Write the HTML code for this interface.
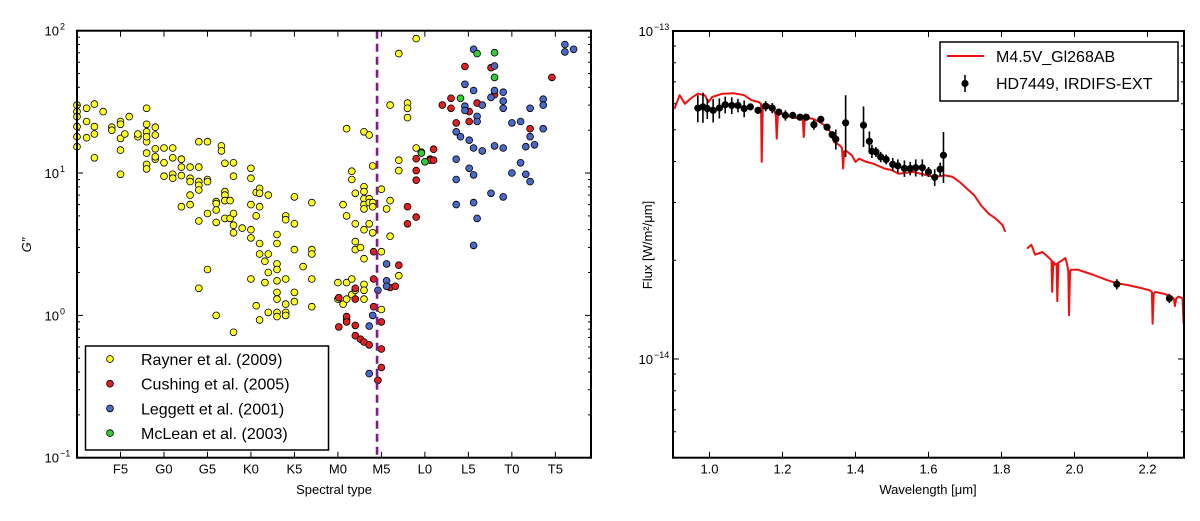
<!DOCTYPE html>
<html><head><meta charset="utf-8"><style>
html,body{margin:0;padding:0;background:#fff;}
svg{display:block;font-family:"Liberation Sans",sans-serif;}
</style></head><body>
<svg id="fig" width="1200" height="521" viewBox="0 0 1200 521" xmlns="http://www.w3.org/2000/svg">
<rect width="1200" height="521" fill="#fff"/>
<g id="left"></g>
<g id="right"></g>
</svg>
<script>
// ---------- LEFT CHART DATA (spectral index: F0=0, G0=10, K0=20, M0=30, L0=40, T0=50) ----------
const tickNamesL = ["F5","G0","G5","K0","K5","M0","M5","L0","L5","T0","T5"];
const tickIdxL = [5,10,15,20,25,30,35,40,45,50,55];
const yTicksL = [0.1,1,10,100];
const markerSpT = 34.5;
const raynerX = [0,0,0,0,0,0,1.1,1.1,1.1,2,2,2,2,3,4,4,5,5,5,5,5,6,5.5,7,7,8,8,8,8,8,8,8,8,9,9,9,9,9,10,10,10,11,11,11,11,12,12,12,12,12,13,13,13,13,13,14,14,14,14,14,14,14,15,15,15,15,15,16,16,16,16,16,16.6,16.6,17,17,17,17,17,17,17.6,17.6,18,18,18,18,18,18,19,20,20,20,20,20,20,20.6,20.6,20.6,21,21,21,21,21,21,21.6,21.6,22,22,22,22,23,23,23,23,23,23,23,23,23,24,24,24,24,24,24,25,25,25,25,25,26,27,27,27,27,27,30,30,30.6,30.6,31,31,31,31,31,31.6,31.6,31.6,31.6,32,32,32,32,32,32.6,33,33,33,33,33,33,33,33,33,33,33,33.6,33.6,33.6,33.6,34,34,34,34,35,35,35,35.6,36,36,36,37,37,37,37,38,38,38,39,39];
const raynerG = [30,27,24.9,21.2,18,15.3,28.5,23,17.7,30.5,21.2,18.8,12.8,27,21,20,23,22,17.5,14.5,9.8,24.9,18.8,18,18.8,28.5,22,19.5,16.6,13.8,11.5,10.7,18,18.5,14.8,12.5,13,21,15,11.8,9.5,15,12.8,9.8,9.2,11,12.5,12.5,9.6,5.8,11,9.2,8.7,7,6,16.6,11,8.7,8.2,7.6,4.6,1.55,16.6,9,8.7,5.2,2.1,6.3,6.1,5.5,4.5,1.0,15.5,14.3,11.7,7.4,7,6.4,6.4,4.8,6.4,4.8,11.8,9.5,5.2,4.3,3.8,0.76,4.1,10.8,9.2,6,4,3.5,1.8,7.3,5,1.17,7.8,7.2,5.8,3.2,2.7,0.93,2.4,1.7,7,2.7,2,1.05,3.7,3.2,2.3,2.1,1.75,1.45,1.3,1.05,0.98,5,4.7,1.8,1.2,1.05,1.0,6.8,4.4,2.9,1.25,1.45,2.2,6.2,2.9,2.7,1.8,1.15,1.7,1.3,6,1.2,20.5,5,1.7,1.3,0.93,10.3,9,1.8,1.4,7.2,4.4,3.3,2.9,1.5,3.0,19.5,8,7.4,6.6,6,5.6,4,2.5,1.65,1.5,1.3,18.5,6.6,6.2,4.4,11.2,6.2,5.8,3.8,7.7,2.8,1.1,5.6,30,6.4,3.6,69,12.3,10.4,1.9,31,28.5,24.5,88,15];
const cushingX = [30.1,30.1,31,31,32,32,32,32,32.6,33,33.6,34.1,34.1,34.1,34.6,35,35,35,36,36.6,37,38,38,39,39,39,39,39.6,40.6,40.6,41,41,42,43,43,43.6,44.6,45.1,45.1,46,47.6,48,52.1,54.6];
const cushingG = [1.33,0.83,0.98,0.9,1.55,1.3,0.85,0.72,0.68,0.65,0.62,2.8,1.8,1.15,0.35,0.9,0.58,0.43,1.57,1.6,2.25,5.8,4.4,12.6,10.4,8.9,4.9,14,12.5,12.3,14.7,12.3,30,28.5,33.5,22.5,56,27,23,31,55,35.5,20.5,47];
const leggettX = [33.6,33.6,34,34.6,35.6,35.6,35.6,43.6,43.6,43.6,43.6,44.1,44.6,44.6,44.6,45.1,45.1,45.6,45.6,45.6,45.6,45.6,45.6,46,46,46,46.6,46.6,47.6,47.6,48,48,48,49,49,49,49,49,50,50,51,51,51.6,51.6,52.1,52.1,52.1,52.6,53.6,53.6,53.6,56.1,56.1,57.1];
const leggettG = [0.84,0.39,1.0,1.5,2.3,1.75,1.6,19.5,12.5,9,6,18,42,29.5,27.5,17,10.8,74,38,15,9.7,6.2,3.1,25,23,4.8,30,14.3,34,7.2,38,56.5,15.5,37,32,28.5,15,6.8,22.5,10,23,11.8,15.3,9.8,28.5,18,8.7,15.8,33,30,20.5,80,71,74];
const mcleanX = [39.6,40,44.1,46,48,48];
const mcleanG = [13.8,12,33.5,69,70,47];

// ---------- RIGHT CHART DATA (wavelength µm, flux in 1e-14 W/m2/µm) ----------
const xTicksR = [1.0,1.2,1.4,1.6,1.8,2.0,2.2];
const modelWl1 = [0.904,0.918,0.933,0.948,0.968,0.987,0.997,1.007,1.036,1.066,1.095,1.115,1.135,1.141,1.143,1.146,1.149,1.164,1.179,1.182,1.184,1.187,1.194,1.204,1.223,1.243,1.256,1.258,1.261,1.263,1.282,1.302,1.322,1.331,1.341,1.356,1.363,1.366,1.369,1.376,1.390,1.400,1.410,1.430,1.449,1.479,1.499,1.518,1.558,1.597,1.617,1.646,1.666,1.685,1.705,1.725,1.744,1.764,1.784,1.803,1.810];
const modelFlux1 = [5.79,6.37,6.00,6.22,6.44,6.37,6.07,6.29,6.44,6.46,6.37,6.15,6.07,6.0,3.99,5.93,5.93,5.93,5.66,5.5,4.70,5.5,5.66,5.53,5.47,5.41,5.35,4.75,5.35,5.41,5.41,5.28,5.10,4.92,4.59,4.49,4.4,3.81,4.3,4.3,4.18,3.99,4.08,3.99,3.94,3.81,3.77,3.67,3.72,3.63,3.59,3.63,3.59,3.47,3.31,3.16,2.94,2.78,2.68,2.56,2.44];
const modelWl2 = [1.870,1.882,1.892,1.912,1.931,1.937,1.939,1.942,1.946,1.951,1.953,1.956,1.961,1.975,1.980,1.983,1.985,1.988,1.990,2.010,2.049,2.089,2.118,2.147,2.187,2.206,2.212,2.214,2.217,2.221,2.246,2.265,2.272,2.275,2.279,2.285,2.296,2.299];
const modelFlux2 = [2.17,2.23,2.08,2.12,2.03,2.0,1.60,1.98,1.94,1.95,1.50,1.97,1.98,2.03,1.94,1.85,1.36,1.85,1.87,1.87,1.81,1.74,1.70,1.68,1.64,1.62,1.6,1.28,1.58,1.60,1.58,1.55,1.53,1.45,1.53,1.55,1.53,1.28];
const obsWl = [0.968,0.982,0.994,1.010,1.027,1.043,1.061,1.078,1.095,1.112,1.133,1.154,1.172,1.190,1.208,1.228,1.248,1.265,1.286,1.305,1.322,1.336,1.346,1.373,1.422,1.438,1.445,1.456,1.469,1.484,1.502,1.516,1.534,1.550,1.565,1.583,1.600,1.617,1.632,1.641,2.116,2.260];
const obsFlux = [5.82,5.87,5.80,5.73,5.82,5.96,5.93,5.93,5.80,5.87,5.73,5.90,5.82,5.66,5.53,5.53,5.46,5.46,5.18,5.38,5.09,4.83,4.68,5.25,5.16,4.61,4.30,4.28,4.13,4.06,3.92,3.88,3.81,3.81,3.83,3.83,3.72,3.58,3.79,4.18,1.69,1.53];
const obsErr = [0.55,0.62,0.41,0.47,0.41,0.35,0.35,0.28,0.34,0.14,0.14,0.21,0.21,0.13,0.20,0.13,0.13,0.13,0.18,0.13,0.12,0.11,0.33,1.12,0.73,0.33,0.20,0.15,0.15,0.14,0.18,0.18,0.22,0.18,0.23,0.23,0.13,0.21,0.18,0.74,0.06,0.05];

const NS='http://www.w3.org/2000/svg';
function mk(parent, tag, attrs, text){const e=document.createElementNS(NS,tag);for(const k in attrs)e.setAttribute(k,attrs[k]);if(text!==undefined)e.textContent=text;parent.appendChild(e);return e;}

// ---------- LEFT ----------
const L={x0:77,x1:591,y0:30.7,y1:457.7,imin:0,imax:59.1,lmin:-1,lmax:2};
const xL=i=>L.x0+(i-L.imin)/(L.imax-L.imin)*(L.x1-L.x0);
const yL=g=>L.y0+(L.lmax-Math.log10(g))/(L.lmax-L.lmin)*(L.y1-L.y0);
const gl=document.getElementById('left');

function series(xs,gs,color,name){
  const g=mk(gl,'g',{});
  
  
  for(let k=0;k<xs.length;k++){
    const c=mk(g,'circle',{cx:xL(xs[k]).toFixed(1),cy:yL(gs[k]).toFixed(1),r:3.4,fill:color,stroke:'#000','stroke-width':0.8});
    
    
  }
}
series(raynerX,raynerG,'#ffff22','rayner');
series(cushingX,cushingG,'#e02020','cushing');
series(leggettX,leggettG,'#4a68c8','leggett');
series(mcleanX,mcleanG,'#33cc33','mclean');

const dl=mk(gl,'line',{x1:xL(markerSpT),x2:xL(markerSpT),y1:L.y0,y2:L.y1,stroke:'#7b1e88','stroke-width':2.6,'stroke-dasharray':'8,5'});



// frame & ticks
const fl=mk(gl,'rect',{x:L.x0,y:L.y0,width:L.x1-L.x0,height:L.y1-L.y0,fill:'none',stroke:'#000','stroke-width':2});


for(let k=0;k<tickIdxL.length;k++){
  const x=xL(tickIdxL[k]);
  mk(gl,'line',{x1:x,x2:x,y1:L.y1,y2:L.y1-6,stroke:'#000','stroke-width':1});
  mk(gl,'line',{x1:x,x2:x,y1:L.y0,y2:L.y0+6,stroke:'#000','stroke-width':1});
  const t=mk(gl,'text',{x:x,y:L.y1+16,'font-size':13,'text-anchor':'middle'},tickNamesL[k]);
  
  
}
for(let d=-1;d<2;d++){for(let m=2;m<10;m++){const y=yL(m*Math.pow(10,d));
  mk(gl,'line',{x1:L.x0,x2:L.x0+3,y1:y,y2:y,stroke:'#000'});mk(gl,'line',{x1:L.x1,x2:L.x1-3,y1:y,y2:y,stroke:'#000'});}}
for(const v of yTicksL){const y=yL(v);
  mk(gl,'line',{x1:L.x0,x2:L.x0+6,y1:y,y2:y,stroke:'#000'});mk(gl,'line',{x1:L.x1,x2:L.x1-6,y1:y,y2:y,stroke:'#000'});
  const e=Math.round(Math.log10(v));
  const t=mk(gl,'text',{x:L.x0-18,y:y+5,'font-size':13,'text-anchor':'end'},'10');
  
  
  mk(gl,'text',{x:L.x0-17,y:y-1,'font-size':9},String(e).replace('-','\u2212'));
}
const xt=mk(gl,'text',{x:334,y:494,'font-size':13,'text-anchor':'middle'},'Spectral type');


const yt=mk(gl,'text',{x:0,y:0,'font-size':13,'font-style':'italic','text-anchor':'middle',transform:'translate(31,245) rotate(-90)'},'G\u2033');



// legend left
const lg=mk(gl,'g',{});


mk(lg,'rect',{x:85.5,y:346,width:243,height:104,fill:'#fff',stroke:'#000','stroke-width':1.5});
const legNames=['Rayner et al. (2009)','Cushing et al. (2005)','Leggett et al. (2001)','McLean et al. (2003)'];
const legCols=['#ffff22','#e02020','#4a68c8','#33cc33'];
for(let k=0;k<4;k++){const y=359+k*24.7;
  const c=mk(lg,'circle',{cx:110,cy:y,r:3.4,fill:legCols[k],stroke:'#000','stroke-width':0.8});
  
  
  const t=mk(lg,'text',{x:141,y:y+6,'font-size':16},legNames[k]);
  
  
}

// ---------- RIGHT ----------
const R={x0:673,x1:1184,y0:31,y1:457.7,wmin:0.9,wmax:2.3};
const xR=w=>R.x0+(w-R.wmin)/(R.wmax-R.wmin)*(R.x1-R.x0);
const yR=f=>R.y0+(1-Math.log10(f))*328;
const gr=document.getElementById('right');
function poly(ws,fs){let s='';for(let k=0;k<ws.length;k++)s+=xR(ws[k]).toFixed(1)+','+yR(fs[k]).toFixed(1)+' ';return s;}
for(const [ws,fs] of [[modelWl1,modelFlux1],[modelWl2,modelFlux2]]){
  const p=mk(gr,'polyline',{points:poly(ws,fs),fill:'none',stroke:'#ee1111','stroke-width':2,'stroke-linejoin':'round'});
  
  
}
for(let k=0;k<obsWl.length;k++){
  const x=xR(obsWl[k]);
  const eb=mk(gr,'line',{x1:x,x2:x,y1:yR(obsFlux[k]+obsErr[k]),y2:yR(Math.max(obsFlux[k]-obsErr[k],0.5)),stroke:'#000','stroke-width':1.6});
  
  
  const c=mk(gr,'circle',{cx:x,cy:yR(obsFlux[k]),r:3.6,fill:'#000'});
  
  
}
const fr=mk(gr,'rect',{x:R.x0,y:R.y0,width:R.x1-R.x0,height:R.y1-R.y0,fill:'none',stroke:'#000','stroke-width':2});


for(const w of xTicksR){const x=xR(w);
  mk(gr,'line',{x1:x,x2:x,y1:R.y1,y2:R.y1-6,stroke:'#000'});mk(gr,'line',{x1:x,x2:x,y1:R.y0,y2:R.y0+6,stroke:'#000'});
  const t=mk(gr,'text',{x:x,y:R.y1+16,'font-size':13,'text-anchor':'middle'},w.toFixed(1));
  
  
}
for(const f of [0.6,0.7,0.8,0.9,2,3,4,5,6,7,8,9]){const y=yR(f);
  mk(gr,'line',{x1:R.x0,x2:R.x0+3,y1:y,y2:y,stroke:'#000'});mk(gr,'line',{x1:R.x1,x2:R.x1-3,y1:y,y2:y,stroke:'#000'});}
for(const [f,e] of [[10,'-13'],[1,'-14']]){const y=yR(f);
  mk(gr,'line',{x1:R.x0,x2:R.x0+6,y1:y,y2:y,stroke:'#000'});mk(gr,'line',{x1:R.x1,x2:R.x1-6,y1:y,y2:y,stroke:'#000'});
  const t=mk(gr,'text',{x:R.x0-20,y:y+5,'font-size':13,'text-anchor':'end'},'10');
  
  
  mk(gr,'text',{x:R.x0-19,y:y-1,'font-size':9},e.replace('-','\u2212'));
}
const xt2=mk(gr,'text',{x:928,y:494,'font-size':13,'text-anchor':'middle'},'Wavelength [\u03BCm]');


const yt2=mk(gr,'text',{x:0,y:0,'font-size':13,'text-anchor':'middle',transform:'translate(652,245) rotate(-90)'},'Flux [W/m\u00B2/\u03BCm]');



const lr=mk(gr,'g',{});


mk(lr,'rect',{x:940,y:42,width:238,height:59,fill:'#fff',stroke:'#000','stroke-width':1.5});
mk(lr,'line',{x1:947,x2:984,y1:56,y2:56,stroke:'#ee1111','stroke-width':2});
const l1=mk(lr,'text',{x:996,y:62,'font-size':16},'M4.5V_Gl268AB');


mk(lr,'line',{x1:965,x2:965,y1:75,y2:92,stroke:'#000','stroke-width':1.6});
mk(lr,'circle',{cx:965,cy:83.5,r:3.6,fill:'#000'});
const l2=mk(lr,'text',{x:996,y:89,'font-size':16},'HD7449, IRDIFS-EXT');


</script>
</body></html>
